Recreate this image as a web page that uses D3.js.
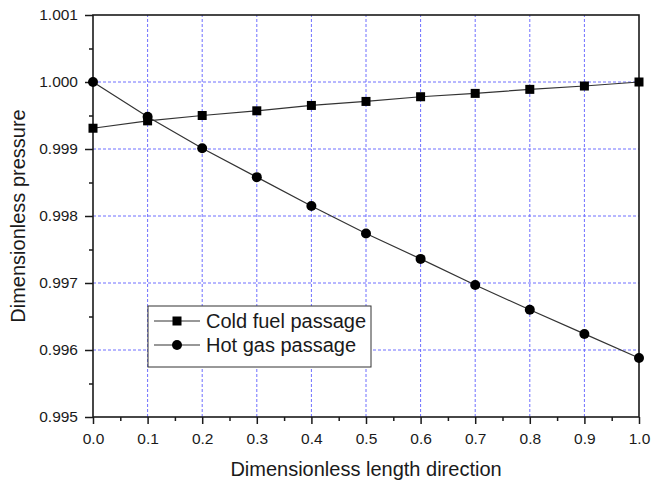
<!DOCTYPE html>
<html>
<head>
<meta charset="utf-8">
<script src="https://cdn.jsdelivr.net/npm/d3@7"></script>
<style>
  html, body { margin: 0; padding: 0; background: #fff; }
  svg { display: block; font-family: "Liberation Sans", Arial, sans-serif; }
</style>
</head>
<body>
<svg id="chart" width="651" height="485"></svg>
<script>
// Dimensionless positions along the passage
const positions = [0.0, 0.1, 0.2, 0.3, 0.4, 0.5, 0.6, 0.7, 0.8, 0.9, 1.0];

// Dimensionless pressure in each passage
const coldFuel = [0.99931, 0.99942, 0.99950, 0.99957, 0.99965, 0.99971, 0.99978, 0.99983, 0.99989, 0.99994, 1.00000];
const hotGas   = [1.00000, 0.99948, 0.99901, 0.99858, 0.99815, 0.99774, 0.99736, 0.99697, 0.99660, 0.99624, 0.99588];

// Axis tick values and labels
const xTicks = [0.0, 0.1, 0.2, 0.3, 0.4, 0.5, 0.6, 0.7, 0.8, 0.9, 1.0];
const yTicks = [0.995, 0.996, 0.997, 0.998, 0.999, 1.000, 1.001];

const seriesNames = ["Cold fuel passage", "Hot gas passage"];

const svg = d3.select("#chart");
const margin = { left: 93, right: 12, top: 15, bottom: 68 };
const W = 651, H = 485;
const x0 = margin.left, x1 = W - margin.right, y0 = H - margin.bottom, y1 = margin.top;

const x = d3.scaleLinear().domain([0, 1]).range([x0, x1]);
const y = d3.scaleLinear().domain([0.995, 1.001]).range([y0, y1]);

const gridColor = "#6f6fff";
const ink = "#1a1a1a";

// Grid lines
const grid = svg.append("g");
grid.selectAll("line.vg").data(xTicks.filter(v => v > 0 && v < 1)).join("line")
  .attr("x1", d => x(d)).attr("x2", d => x(d)).attr("y1", y0).attr("y2", y1)
  .attr("stroke", gridColor).attr("stroke-width", 1).attr("stroke-dasharray", "3,2");
grid.selectAll("line.hg").data(yTicks.filter(v => v > 0.995 && v < 1.001)).join("line")
  .attr("x1", x0).attr("x2", x1).attr("y1", d => y(d)).attr("y2", d => y(d))
  .attr("stroke", gridColor).attr("stroke-width", 1).attr("stroke-dasharray", "3,2");

// Axes
const fmtX = d3.format(".1f"), fmtY = d3.format(".3f");
const xAxis = d3.axisBottom(x).tickValues(xTicks).tickFormat(fmtX).tickSize(7).tickPadding(9);
const xMinor = d3.axisBottom(x).tickValues(d3.range(0.05, 1, 0.1)).tickFormat("").tickSize(4);
const yAxis = d3.axisLeft(y).tickValues(yTicks).tickFormat(fmtY).tickSize(8).tickPadding(7);
const yMinor = d3.axisLeft(y).tickValues(d3.range(0.9955, 1.0009, 0.001)).tickFormat("").tickSize(4);

function styleAxis(g) {
  g.select(".domain").remove();
  g.selectAll(".tick line").attr("stroke", ink).attr("stroke-width", 1.5);
  g.selectAll(".tick text").attr("fill", ink).style("font-size", "15.5px");
}

svg.append("g").attr("transform", `translate(0,${y0})`).call(xAxis).call(styleAxis);
svg.append("g").attr("transform", `translate(0,${y0})`).call(xMinor).call(styleAxis);
svg.append("g").attr("transform", `translate(${x0},0)`).call(yAxis).call(styleAxis);
svg.append("g").attr("transform", `translate(${x0},0)`).call(yMinor).call(styleAxis);

// Frame
svg.append("rect").attr("x", x0).attr("y", y1).attr("width", x1 - x0).attr("height", y0 - y1)
  .attr("fill", "none").attr("stroke", ink).attr("stroke-width", 1.6);

// Axis titles
svg.append("text").attr("x", (x0 + x1) / 2).attr("y", 476).attr("text-anchor", "middle")
  .attr("fill", ink).style("font-size", "20px").text("Dimensionless length direction");
svg.append("text").attr("transform", `translate(25,${(y0 + y1) / 2}) rotate(-90)`)
  .attr("text-anchor", "middle").attr("fill", ink).style("font-size", "20px")
  .text("Dimensionless pressure");

// Series
const line = d3.line().x(d => x(d[0])).y(d => y(d[1]));
const coldPts = positions.map((p, i) => [p, coldFuel[i]]);
const hotPts = positions.map((p, i) => [p, hotGas[i]]);

const plot = svg.append("g");
[coldPts, hotPts].forEach(pts => {
  plot.append("path").datum(pts).attr("d", line)
    .attr("fill", "none").attr("stroke", "#333").attr("stroke-width", 1.2);
});
const sq = 9;
plot.selectAll("rect.cold").data(coldPts).join("rect")
  .attr("x", d => x(d[0]) - sq / 2).attr("y", d => y(d[1]) - sq / 2)
  .attr("width", sq).attr("height", sq).attr("fill", "#000");
plot.selectAll("circle.hot").data(hotPts).join("circle")
  .attr("cx", d => x(d[0])).attr("cy", d => y(d[1])).attr("r", 5).attr("fill", "#000");

// Legend
const lg = svg.append("g").attr("transform", "translate(148,306)");
lg.append("rect").attr("width", 223).attr("height", 61)
  .attr("fill", "#fff").attr("stroke", "#333").attr("stroke-width", 1);
seriesNames.forEach((name, i) => {
  const cy = 15 + i * 24;
  lg.append("line").attr("x1", 6).attr("x2", 52).attr("y1", cy).attr("y2", cy)
    .attr("stroke", "#333").attr("stroke-width", 1.2);
  if (i === 0) {
    lg.append("rect").attr("x", 29 - sq / 2).attr("y", cy - sq / 2)
      .attr("width", sq).attr("height", sq).attr("fill", "#000");
  } else {
    lg.append("circle").attr("cx", 29).attr("cy", cy).attr("r", 5).attr("fill", "#000");
  }
  lg.append("text").attr("x", 58).attr("y", cy + 7).attr("fill", ink)
    .style("font-size", "20px").text(name);
});
</script>
</body>
</html>
